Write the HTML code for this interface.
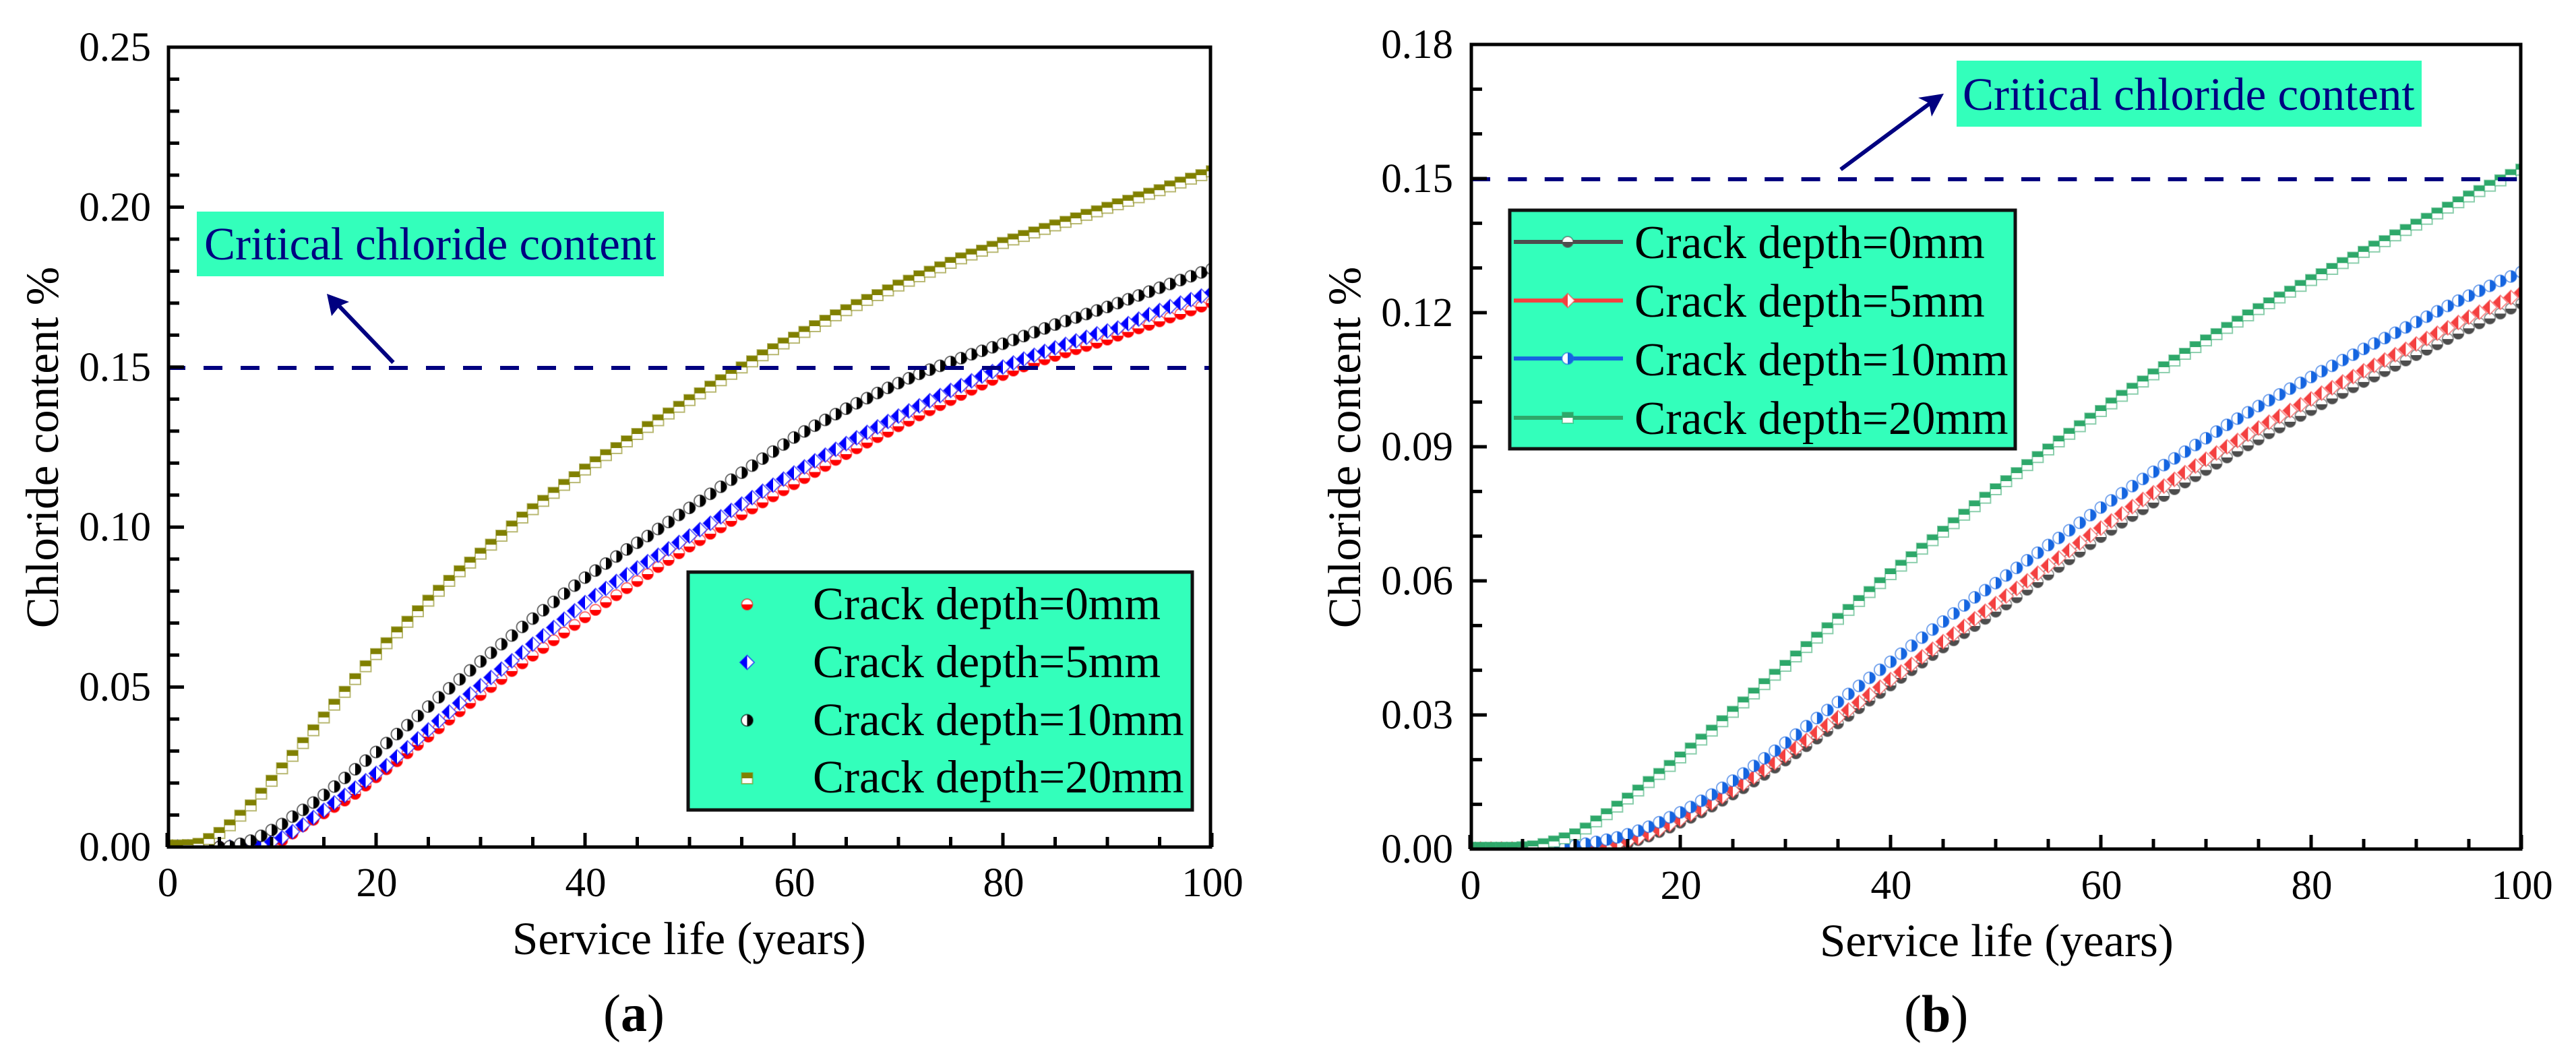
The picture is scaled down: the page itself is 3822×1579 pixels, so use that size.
<!DOCTYPE html>
<html lang="en">
<head>
<meta charset="utf-8">
<title>Chloride content vs service life</title>
<style>
html,body{margin:0;padding:0;background:#fff;width:3822px;height:1579px;overflow:hidden}
svg{display:block}
text{font-family:"Liberation Serif","Times New Roman",serif;fill:#000}
</style>
</head>
<body>
<svg id="figure" xmlns="http://www.w3.org/2000/svg" width="3822" height="1579" viewBox="0 0 3822 1579">
  <rect width="3822" height="1579" fill="#fff"/>
  <defs>
    <clipPath id="clip-a"><rect x="250" y="70" width="1546" height="1187"/></clipPath>
    <clipPath id="clip-b"><rect x="2183" y="66" width="1557" height="1194"/></clipPath>
  </defs>

  <g id="panel-a">
    <g id="marks-a" clip-path="url(#clip-a)"></g>
    <line x1="250" y1="546" x2="1796" y2="546" stroke="#000080" stroke-width="6" stroke-dasharray="28 27" stroke-dashoffset="3"/>
    <rect x="250" y="70" width="1546" height="1187" fill="none" stroke="#000" stroke-width="5"/>
    <g id="axes-a"></g>
    <text x="86" y="664" font-size="69" text-anchor="middle" transform="rotate(-90 86 664)">Chloride content %</text>
    <text x="760" y="1416" font-size="69">Service life (years)</text>
    <rect x="292" y="314" width="693" height="96" fill="#33ffbb"/>
    <text x="303" y="385" font-size="69" style="fill:#000080">Critical chloride content</text>
    <line x1="583.5" y1="538" x2="502" y2="453" stroke="#000080" stroke-width="6"/>
    <polygon points="485,436 518,448 504,454 492,469" fill="#000080"/>
    <rect x="1021" y="849" width="748" height="353" fill="#33ffbb" stroke="#111" stroke-width="5"/>
    <g id="legend-markers-a"></g>
    <text x="1206" y="919" font-size="69">Crack depth=0mm</text>
    <text x="1206" y="1005" font-size="69">Crack depth=5mm</text>
    <text x="1206" y="1091" font-size="69">Crack depth=10mm</text>
    <text x="1206" y="1176" font-size="69">Crack depth=20mm</text>
    <text x="895" y="1530" font-size="78">(<tspan font-weight="bold">a</tspan>)</text>
  </g>

  <g id="panel-b">
    <g id="marks-b" clip-path="url(#clip-b)"></g>
    <line x1="2183" y1="266" x2="3740" y2="266" stroke="#000080" stroke-width="6" stroke-dasharray="28 26.4"/>
    <rect x="2183" y="66" width="1557" height="1194" fill="none" stroke="#000" stroke-width="5"/>
    <g id="axes-b"></g>
    <text x="2018" y="664" font-size="69" text-anchor="middle" transform="rotate(-90 2018 664)">Chloride content %</text>
    <text x="2700" y="1419" font-size="69">Service life (years)</text>
    <rect x="2903" y="90" width="690" height="98" fill="#33ffbb"/>
    <text x="2912" y="163" font-size="69" style="fill:#000080">Critical chloride content</text>
    <line x1="2731" y1="251.5" x2="2864" y2="153" stroke="#000080" stroke-width="6"/>
    <polygon points="2884,139 2866,173 2862,153 2846,145" fill="#000080"/>
    <rect x="2240" y="312" width="750" height="354" fill="#33ffbb" stroke="#111" stroke-width="5"/>
    <g id="legend-markers-b"></g>
    <text x="2425" y="383" font-size="69.5">Crack depth=0mm</text>
    <text x="2425" y="470" font-size="69.5">Crack depth=5mm</text>
    <text x="2425" y="557" font-size="69.5">Crack depth=10mm</text>
    <text x="2425" y="644" font-size="69.5">Crack depth=20mm</text>
    <text x="2825" y="1531" font-size="78">(<tspan font-weight="bold">b</tspan>)</text>
  </g>
</svg>

<script>
const years = [0,1,2,3,4,5,6,7,8,9,10,11,12,13,14,15,16,17,18,19,20,21,22,23,24,25,26,27,28,29,30,31,32,33,34,35,36,37,38,39,40,41,42,43,44,45,46,47,48,49,50,51,52,53,54,55,56,57,58,59,60,61,62,63,64,65,66,67,68,69,70,71,72,73,74,75,76,77,78,79,80,81,82,83,84,85,86,87,88,89,90,91,92,93,94,95,96,97,98,99,100];

const aDepth0 = [0,0,0,0,0,0,0,0,0,0,
.0005,.002,.0042,.0065,.0085,.0105,.0125,.0145,.0166,.0192,
.0218,.0243,.0268,.0293,.0319,.0345,.0371,.0398,.0424,.045,
.0475,.05,.0525,.055,.0574,.0598,.0622,.0646,.067,.0694,
.0718,.0741,.0765,.0787,.0809,.0831,.0853,.0875,.0897,.0918,
.0939,.0959,.0979,.0999,.1019,.1039,.1058,.1077,.1096,.1115,
.1134,.1153,.1172,.1191,.121,.1228,.1246,.1264,.1281,.1298,
.1315,.1332,.1349,.1365,.1381,.1397,.1413,.1429,.1445,.146,
.1475,.1489,.1502,.1513,.1524,.1535,.1546,.1556,.1566,.1576,
.1586,.1598,.161,.1621,.1632,.1643,.1655,.1666,.1677,.1689,.17];
const aDepth5 = [0,0,0,0,0,0,0,0,.0002,.0008,
.0016,.0029,.0048,.0069,.0092,.0115,.0138,.0161,.0184,.0207,
.023,.0254,.0282,.031,.0338,.0366,.0394,.0422,.045,.0478,
.0504,.053,.0556,.0582,.0608,.0634,.066,.0686,.0712,.0738,
.0764,.0786,.0808,.083,.0851,.0872,.0892,.0912,.0932,.0952,
.0972,.0992,.1012,.1032,.1052,.1072,.1092,.1112,.1131,.115,
.1169,.1188,.1207,.1225,.1243,.1261,.1279,.1296,.1313,.133,
.1347,.1363,.1379,.1395,.1411,.1427,.1442,.1457,.1472,.1486,
.15,.1513,.1525,.1537,.1549,.156,.1571,.1582,.1593,.1604,
.1613,.1622,.1636,.165,.1664,.1677,.1689,.17,.1711,.1722,.1733];
const aDepth10 = [0,0,0,0,0,0,.0002,.001,.002,.0035,
.0053,.0072,.0095,.0116,.0139,.0163,.0189,.0216,.0243,.027,
.0297,.0325,.0353,.0381,.041,.0439,.0468,.0496,.0524,.0552,
.058,.0607,.0634,.0661,.0688,.0714,.074,.0766,.0792,.0817,
.0842,.0864,.0886,.0908,.093,.0951,.0972,.0994,.1016,.1038,
.106,.1082,.1104,.1126,.1148,.117,.1192,.1214,.1236,.1258,
.128,.1299,.1317,.1335,.1353,.137,.1387,.1403,.1419,.1435,
.145,.1465,.1479,.1492,.1504,.1516,.1528,.154,.1551,.1562,
.1573,.1585,.1597,.1609,.1621,.1633,.1644,.1655,.1666,.1677,
.1688,.17,.1712,.1724,.1736,.1748,.176,.1772,.1784,.1796,.1807];
const aDepth20 = [.0005,.0005,.0006,.001,.0025,.0044,.0068,.0098,.013,.0167,
.0207,.0246,.0285,.0325,.0365,.0405,.0445,.0485,.0525,.0565,
.0603,.0637,.0671,.0704,.0737,.077,.0801,.0832,.0862,.0889,
.0917,.0945,.0973,.1002,.103,.1056,.1082,.1107,.1132,.1156,
.118,.1203,.1225,.1247,.1268,.1291,.1313,.1334,.1355,.1376,
.1397,.1418,.1439,.1459,.1479,.1499,.1518,.1537,.1556,.1574,
.1592,.161,.1628,.1645,.1662,.1678,.1694,.171,.1725,.174,
.1755,.177,.1784,.1798,.1812,.1826,.184,.1852,.1864,.1876,
.1888,.1899,.191,.1921,.1932,.1943,.1954,.1965,.1976,.1987,
.1998,.2009,.202,.2031,.2042,.2053,.2065,.2077,.2089,.21,.2112];

const bDepth0 = [0,0,0,0,0,0,0,0,0,0,0,0,0,.0003,.0007,.0012,.002,.0028,.0038,.0048,.0059,.007,.0082,.0095,.0108,.0122,.0136,.0151,.0166,.0182,.0198,.0214,.023,.0247,.0264,.0281,.0298,.0315,.0332,.0349,.0366,.0383,.04,.0417,.0434,.0451,.0467,.0483,.0499,.0515,.0531,.0547,.0563,.058,.0597,.0614,.0631,.0648,.0665,.0682,.0698,.0714,.073,.0745,.076,.0775,.079,.0805,.082,.0834,.0848,.0862,.0876,.089,.0903,.0916,.093,.0943,.0956,.0969,.0982,.0995,.1008,.102,.1033,.1045,.1057,.1069,.1081,.1093,.1105,.1117,.1129,.1141,.1153,.1165,.1176,.1187,.1198,.1209,.122];
const bDepth5 = [0,0,0,0,0,0,0,0,0,0,0,0,.0002,.0006,.001,.0017,.0025,.0034,.0044,.0055,.0066,.0078,.009,.0103,.0117,.0131,.0146,.0161,.0177,.0193,.0209,.0226,.0243,.026,.0277,.0294,.0311,.0328,.0345,.0362,.0379,.0396,.0413,.043,.0447,.0464,.0481,.0498,.0515,.0532,.0549,.0566,.0583,.06,.0617,.0634,.0651,.0668,.0685,.0702,.0718,.0734,.075,.0766,.0782,.0797,.0812,.0827,.0842,.0857,.0872,.0886,.09,.0914,.0928,.0942,.0955,.0968,.0981,.0994,.1007,.102,.1032,.1045,.1057,.107,.1082,.1094,.1106,.1118,.113,.1142,.1154,.1166,.1178,.119,.1201,.1212,.1223,.1234,.1245];
const bDepth10 = [0,0,0,0,0,0,0,0,0,.0003,.0008,.0012,.0016,.0021,.0026,.0033,.0041,.005,.006,.0071,.0082,.0094,.0108,.0122,.0137,.0153,.0169,.0186,.0203,.022,.0238,.0256,.0275,.0293,.0311,.0329,.0347,.0365,.0383,.0401,.0419,.0437,.0455,.0473,.0491,.0509,.0527,.0545,.0563,.0579,.0595,.0612,.0629,.0646,.0663,.068,.0696,.0713,.073,.0747,.0764,.078,.0796,.0812,.0828,.0844,.0859,.0874,.0889,.0904,.0919,.0934,.0949,.0963,.0977,.0991,.1004,.1017,.103,.1043,.1056,.1069,.1081,.1094,.1106,.1119,.1131,.1143,.1155,.1167,.1179,.1191,.1203,.1215,.1227,.1238,.1249,.126,.1271,.1281,.1291];
const bDepth20 = [.0003,.0003,.0003,.0003,.0003,.0004,.0006,.0011,.0017,.0024,.0033,.0046,.0062,.0078,.0095,.0113,.0131,.015,.0168,.0186,.0205,.0225,.0245,.0265,.0286,.0307,.0328,.0348,.0369,.039,.041,.0431,.0452,.0473,.0494,.0515,.0535,.0555,.0575,.0595,.0615,.0634,.0653,.0672,.0691,.071,.0729,.0748,.0767,.0786,.0805,.0823,.0841,.0859,.0877,.0894,.0912,.0929,.0946,.0963,.098,.0997,.1014,.103,.1046,.1062,.1078,.1093,.1108,.1123,.1138,.1152,.1166,.118,.1194,.1208,.1221,.1234,.1247,.126,.1273,.1286,.1298,.1311,.1323,.1336,.1348,.136,.1373,.1385,.1397,.141,.1422,.1435,.1447,.146,.1472,.1484,.1496,.1508,.152];

const xMajorTicks = [0,20,40,60,80,100];
const xMinorTicks = [5,10,15,25,30,35,45,50,55,65,70,75,85,90,95];
const aYLabels = ["0.00","0.05","0.10","0.15","0.20","0.25"];
const aYMinorTicks = [.01,.02,.03,.04,.06,.07,.08,.09,.11,.12,.13,.14,.16,.17,.18,.19,.21,.22,.23,.24];
const bYLabels = ["0.00","0.03","0.06","0.09","0.12","0.15","0.18"];
const bYMinorTicks = [.01,.02,.04,.05,.07,.08,.1,.11,.13,.14,.16,.17];

const NS = "http://www.w3.org/2000/svg";
const xA = t => 248 + t * 15.5;
const yA = v => 1257 - (v / 0.25) * 1187;
const xB = t => 2181 + t * 15.6;
const yB = v => 1260 - (v / 0.18) * 1194;

function make(tag, attrs, parent) {
  const el = document.createElementNS(NS, tag);
  for (const k in attrs) el.setAttribute(k, attrs[k]);
  parent.appendChild(el);
  return el;
}

function drawMarker(parent, shape, color, cx, cy) {
  const line = { fill: "#fff", stroke: color, "stroke-width": 2, "stroke-opacity": 0.55 };
  if (shape === "circle-bottom") {
    make("circle", Object.assign({ cx: cx, cy: cy, r: 8 }, line), parent);
    make("path", { d: `M${cx - 8} ${cy}A8 8 0 0 0 ${cx + 8} ${cy}Z`, fill: color }, parent);
  } else if (shape === "circle-right") {
    make("circle", Object.assign({ cx: cx, cy: cy, r: 8.5 }, line), parent);
    make("path", { d: `M${cx} ${cy - 8.5}A8.5 8.5 0 0 1 ${cx} ${cy + 8.5}Z`, fill: color }, parent);
  } else if (shape === "diamond-left") {
    make("path", Object.assign({ d: `M${cx - 10.5} ${cy}L${cx} ${cy - 10.5}L${cx + 10.5} ${cy}L${cx} ${cy + 10.5}Z` }, line), parent);
    make("path", { d: `M${cx - 10.5} ${cy}L${cx} ${cy - 10.5}L${cx} ${cy + 10.5}Z`, fill: color }, parent);
  } else {
    make("rect", Object.assign({ x: cx - 8, y: cy - 8, width: 16, height: 16 }, line), parent);
    make("rect", { x: cx - 8, y: cy - 8, width: 16, height: 8, fill: color }, parent);
  }
}

function drawSeries(parentId, name, values, xFn, yFn, shape, color) {
  const parent = document.getElementById(parentId);
  const group = document.createElementNS(NS, "g");
  
  
  parent.appendChild(group);
  values.forEach(function (v, i) {
    const m = document.createElementNS(NS, "g");
    
    
    group.appendChild(m);
    drawMarker(m, shape, color, xFn(years[i]), yFn(v));
  });
}

function drawLegendMarker(parentId, name, shape, color, cx, cy, x1, x2) {
  const parent = document.getElementById(parentId);
  const group = document.createElementNS(NS, "g");
  
  
  parent.appendChild(group);
  if (x1 !== undefined) make("line", { x1: x1, x2: x2, y1: cy, y2: cy, stroke: color, "stroke-width": 6 }, group);
  drawMarker(group, shape, color, cx, cy);
}

function addTick(parent, x1, y1, x2, y2) {
  const t = document.createElementNS(NS, "line");
  
  
  t.setAttribute("x1", x1); t.setAttribute("y1", y1);
  t.setAttribute("x2", x2); t.setAttribute("y2", y2);
  t.setAttribute("stroke", "#000"); t.setAttribute("stroke-width", 5);
  parent.appendChild(t);
}

function addLabel(parent, name, x, y, anchor, str) {
  const t = document.createElementNS(NS, "text");
  
  
  t.setAttribute("x", x); t.setAttribute("y", y);
  t.setAttribute("text-anchor", anchor);
  t.setAttribute("font-size", 61);
  t.textContent = str;
  parent.appendChild(t);
}

function drawAxes(id, xFn, yFn, left, bottom, labels, minors, yRight, xBase) {
  const g = document.getElementById(id);
  xMajorTicks.forEach(function (t) {
    addTick(g, xFn(t), bottom, xFn(t), bottom - 21);
    addLabel(g, "x-tick-label", xFn(t) + 1, xBase, "middle", String(t));
  });
  xMinorTicks.forEach(function (t) { addTick(g, xFn(t), bottom, xFn(t), bottom - 15); });
  labels.forEach(function (s) {
    const v = parseFloat(s);
    addTick(g, left, yFn(v), left + 23, yFn(v));
    addLabel(g, "y-tick-label", yRight, yFn(v) + 20, "end", s);
  });
  minors.forEach(function (v) { addTick(g, left, yFn(v), left + 16, yFn(v)); });
}

const olive = "#808000", aRed = "#ff0000", aBlue = "#0000ff", aBlack = "#000000";
const grey = "#4d4d4d", bRed = "#f44040", bBlue = "#1565e0", green = "#2ea86a";

drawSeries("marks-a", "series-a-0mm", aDepth0, xA, yA, "circle-bottom", aRed);
drawSeries("marks-a", "series-a-5mm", aDepth5, xA, yA, "diamond-left", aBlue);
drawSeries("marks-a", "series-a-10mm", aDepth10, xA, yA, "circle-right", aBlack);
drawSeries("marks-a", "series-a-20mm", aDepth20, xA, yA, "square-top", olive);

drawSeries("marks-b", "series-b-0mm", bDepth0, xB, yB, "circle-bottom", grey);
drawSeries("marks-b", "series-b-5mm", bDepth5, xB, yB, "diamond-left", bRed);
drawSeries("marks-b", "series-b-10mm", bDepth10, xB, yB, "circle-right", bBlue);
drawSeries("marks-b", "series-b-20mm", bDepth20, xB, yB, "square-top", green);

drawAxes("axes-a", xA, yA, 250, 1257, aYLabels, aYMinorTicks, 224, 1330);
drawAxes("axes-b", xB, yB, 2183, 1260, bYLabels, bYMinorTicks, 2156, 1334);

drawLegendMarker("legend-markers-a", "legend-marker-a-0mm", "circle-bottom", aRed, 1108.5, 897);
drawLegendMarker("legend-markers-a", "legend-marker-a-5mm", "diamond-left", aBlue, 1108.5, 983);
drawLegendMarker("legend-markers-a", "legend-marker-a-10mm", "circle-right", aBlack, 1108.5, 1069);
drawLegendMarker("legend-markers-a", "legend-marker-a-20mm", "square-top", olive, 1108.5, 1155);

drawLegendMarker("legend-markers-b", "legend-marker-b-0mm", "circle-bottom", grey, 2326, 359, 2246, 2408);
drawLegendMarker("legend-markers-b", "legend-marker-b-5mm", "diamond-left", bRed, 2326, 446, 2246, 2408);
drawLegendMarker("legend-markers-b", "legend-marker-b-10mm", "circle-right", bBlue, 2326, 532, 2246, 2408);
drawLegendMarker("legend-markers-b", "legend-marker-b-20mm", "square-top", green, 2326, 620, 2246, 2408);
</script>
</body>
</html>
